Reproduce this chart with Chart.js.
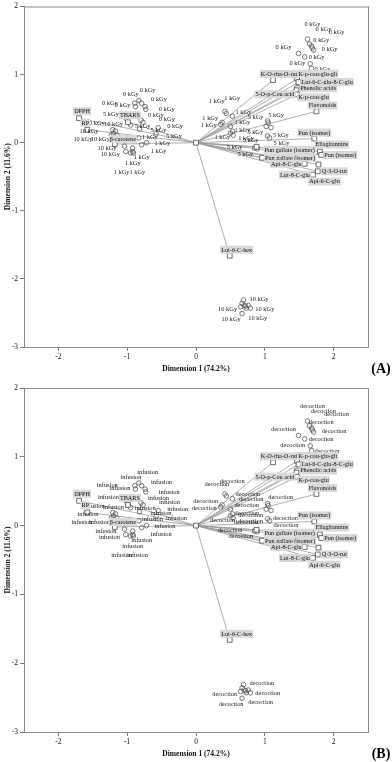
<!DOCTYPE html>
<html>
<head>
<meta charset="utf-8">
<script src="https://cdn.jsdelivr.net/npm/chart.js@4/dist/chart.umd.min.js"></script>
<style>
html,body{margin:0;padding:0;background:#fff;}
#wrap{position:relative;width:392px;height:762px;}
canvas{position:absolute;left:0;}
#cA{top:0;}
#cB{top:381px;}
</style>
</head>
<body>
<div id="wrap">
<canvas id="cA" width="392" height="381"></canvas>
<canvas id="cB" width="392" height="381"></canvas>
</div>
<script>
// ---- data ----------------------------------------------------------
// axis ticks
const xTicks = [-2, -1, 0, 1, 2];
const yTicks = [-3, -2, -1, 0, 1, 2];

// variables (component loadings)
const varNames = ['DPPH', 'RP', 'TBARS', 'β-carotene', 'K-O-rha-O-rut', 'K-p-cou-glu-glt',
  'Lut-6-C-glu-8-C-glu', 'Phenolic acids', '5-O-p-Cou acid', 'K-p-cou-glu', 'Flavonoids',
  'Pun (isomer)', 'Ellagitannins', 'Pun (isomer)', 'Pun gallate (isomer)', 'Pun gallate (isomer)',
  'Api-8-C-glu', 'Q-3-O-rut', 'Lut-8-C-glu', 'Api-6-C-glu', 'Lut-6-C-hex'];
const varDim1 = [-1.70, -1.58, -0.99, -1.18, 1.12, 1.47, 1.49, 1.47, 1.46, 1.47, 1.75,
  1.72, 1.80, 1.82, 0.88, 0.96, 1.58, 1.77, 1.70, 1.78, 0.49];
const varDim2 = [0.36, 0.19, 0.30, -0.02, 0.92, 0.94, 0.89, 0.80, 0.77, 0.71, 0.46,
  0.06, -0.13, -0.18, -0.06, -0.22, -0.31, -0.42, -0.47, -0.32, -1.66];

// objects (samples)
const obsDim1 = [
  1.62, 1.65, 1.68, 1.69, 1.49, 1.71, 1.58, 1.66, 1.68,
  -0.83, -0.79, -0.74, -0.73, -0.80, -0.77, -0.55, -0.88, -0.89,
  -1.02, -0.95, -0.82, -0.58,
  -1.21, -1.17, -1.20, -1.23, -1.15, -1.04, -1.02,
  -0.83, -0.72, -0.79, -0.92, -0.92, -0.95, -0.91,
  0.42, 0.44, 0.53, 0.38, 0.50, 0.36, 0.53, 0.50, 0.54,
  1.04, 1.05, 1.02, 1.09, 1.04, 1.07, 0.85, 0.89,
  0.69, 0.67, 0.70, 0.76, 0.73, 0.79, 0.67, 0.72, 0.65];
const obsDim2 = [
  1.52, 1.45, 1.42, 1.39, 1.31, 1.36, 1.26, 1.16, 1.09,
  0.62, 0.58, 0.53, 0.49, 0.33, 0.30, 0.22, 0.53, 0.58,
  0.36, 0.26, 0.20, 0.13,
  0.19, 0.17, 0.14, 0.11, 0.11, -0.05, -0.13,
  0.07, 0.00, -0.03, -0.08, -0.13, -0.15, -0.15,
  0.46, 0.43, 0.39, 0.30, 0.24, 0.27, 0.17, 0.14, 0.11,
  0.32, 0.29, 0.24, 0.22, 0.10, 0.07, -0.08, -0.09,
  -2.31, -2.36, -2.39, -2.39, -2.43, -2.43, -2.51, -2.40, -2.41];
const obsDose = [
  '0 kGy', '0 kGy', '0 kGy', '0 kGy', '0 kGy', '0 kGy', '0 kGy', '0 kGy', '0 kGy',
  '0 kGy', '0 kGy', '0 kGy', '0 kGy', '0 kGy', '0 kGy', '0 kGy', '0 kGy', '0 kGy',
  '5 kGy', '5 kGy', '5 kGy', '5 kGy',
  '10 kGy', '10 kGy', '10 kGy', '10 kGy', '10 kGy', '10 kGy', '10 kGy',
  '1 kGy', '1 kGy', '1 kGy', '1 kGy', '1 kGy', '1 kGy', '1 kGy',
  '1 kGy', '1 kGy', '1 kGy', '1 kGy', '1 kGy', '1 kGy', '1 kGy', '1 kGy', '1 kGy',
  '5 kGy', '5 kGy', '5 kGy', '5 kGy', '5 kGy', '5 kGy', '5 kGy', '5 kGy',
  '10 kGy', '10 kGy', '10 kGy', '10 kGy', '10 kGy', '10 kGy', '10 kGy', '10 kGy', '10 kGy'];
const obsPrep = [
  'decoction', 'decoction', 'decoction', 'decoction', 'decoction', 'decoction', 'decoction', 'decoction', 'decoction',
  'infusion', 'infusion', 'infusion', 'infusion', 'infusion', 'infusion', 'infusion', 'infusion', 'infusion',
  'infusion', 'infusion', 'infusion', 'infusion',
  'infusion', 'infusion', 'infusion', 'infusion', 'infusion', 'infusion', 'infusion',
  'infusion', 'infusion', 'infusion', 'infusion', 'infusion', 'infusion', 'infusion',
  'decoction', 'decoction', 'decoction', 'decoction', 'decoction', 'decoction', 'decoction', 'decoction', 'decoction',
  'decoction', 'decoction', 'decoction', 'decoction', 'decoction', 'decoction', 'decoction', 'decoction',
  'decoction', 'decoction', 'decoction', 'decoction', 'decoction', 'decoction', 'decoction', 'decoction', 'decoction'];

// ---- label placement (style only: side, dx, dy in px) ----------------
const varLabelAt = [['c', 3, -7], ['c', -2, -7], ['c', 2, -7], ['c', 8, -5], ['c', 6, -6], ['r', 1, -5],
  ['r', 3, 0], ['r', 3, 0], ['l', -2, 4], ['r', 1, 3], ['c', 6, -6],
  ['c', 0, -6], ['c', 12, -7], ['r', 3, 0], ['r', 8, 3], ['r', 3, 0],
  ['l', -3, 0], ['r', 4, 0], ['l', -3, 0], ['c', 6, 17], ['c', 7, -6]];
const obsLabelAt = [
  ['c', 5, -15], ['c', 14, -15], ['c', 25, -14], ['c', 9, -8], ['c', -15, -6], ['r', 8, -1], ['r', 4, 0], ['l', -5, 0], ['r', 3, 1],
  ['c', -8, -6], ['c', 6, -13], ['r', 6, -7], ['r', 13, 0], ['r', 7, -5], ['r', 16, -3], ['r', 9, -1], ['l', -5, -1], ['l', -17, 0],
  ['l', -7, -4], ['r', 4, 1], ['r', 11, 1], ['r', 10, 2],
  ['l', -8, -6], ['c', -2, -7], ['l', -15, -2], ['l', -19, 4], ['l', -7, 4], ['l', -8, 2], ['l', -6, 3],
  ['r', 3, -1], ['r', 8, 1], ['r', 9, 7], ['c', 9, 9], ['c', 0, 12], ['c', -9, 19], ['c', 4, 19],
  ['c', -8, -10], ['c', 6, -15], ['r', 3, -4], ['l', -4, -4], ['r', 4, -4], ['l', -4, 1], ['r', 2, -1], ['c', -8, 4], ['r', 5, 3],
  ['l', -4, -4], ['r', 0, -8], ['l', -3, 6], ['r', 2, 8], ['l', -9, 4], ['r', 4, 5], ['l', -12, -1], ['l', -4, 5],
  ['r', 6, -1], ['l', -5, 6], ['n'], ['n'], ['r', 2, 10], ['r', 5, 1], ['c', -11, 6], ['n'], ['n']];

const SERIF = '"Liberation Serif", "Times New Roman", serif';

// labels, frame and panel letter drawn on top of the datasets
function biplotLabels(obsText, tag, tagY) {
  return {
    id: 'biplotLabels',
    beforeDatasetsDraw(chart) {
      const a = chart.chartArea, ctx = chart.ctx;
      ctx.save();
      ctx.strokeStyle = '#8a8a8a';
      ctx.lineWidth = 1;
      ctx.strokeRect(a.left + 0.5, a.top + 0.5, a.right - a.left, a.bottom - a.top);
      ctx.restore();
    },
    afterDatasetsDraw(chart) {
      const ctx = chart.ctx;
      ctx.save();
      ctx.textBaseline = 'middle';
      // sample labels
      ctx.font = '6.4px ' + SERIF;
      ctx.fillStyle = '#1a1a1a';
      chart.getDatasetMeta(1).data.forEach((el, i) => {
        const p = obsLabelAt[i];
        if (p[0] === 'n') return;
        ctx.textAlign = p[0] === 'r' ? 'left' : (p[0] === 'l' ? 'right' : 'center');
        ctx.fillText(obsText[i], el.x + p[1], el.y + p[2]);
      });
      // variable labels with grey boxes
      ctx.font = '6.2px ' + SERIF;
      chart.getDatasetMeta(2).data.forEach((el, i) => {
        const p = varLabelAt[i];
        const w = ctx.measureText(varNames[i]).width;
        let x0 = el.x + p[1];
        if (p[0] === 'c') x0 -= w / 2;
        if (p[0] === 'l') x0 -= w;
        const y = el.y + p[2];
        ctx.fillStyle = '#d9d9d9';
        ctx.fillRect(x0 - 1, y - 4, w + 2, 8);
        ctx.fillStyle = '#111';
        ctx.textAlign = 'left';
        ctx.fillText(varNames[i], x0, y + 0.3);
      });
      // panel letter
      ctx.font = 'bold 14px ' + SERIF;
      ctx.textAlign = 'center';
      ctx.fillStyle = '#000';
      ctx.fillText(tag, 381, tagY);
      ctx.restore();
    }
  };
}

function drawBiplot(id, obsText, tag, padTop, titlePad, tagY) {
  const obsPts = obsDim1.map((x, i) => ({x: x, y: obsDim2[i]}));
  const varPts = varDim1.map((x, i) => ({x: x, y: varDim2[i]}));
  // vectors from the origin to every variable, broken by gaps
  const vecPts = [];
  varPts.forEach(p => { vecPts.push({x: 0, y: 0}, p, {x: null, y: null}); });

  const tickFont = {family: SERIF, size: 7.5};
  const titleFont = {family: SERIF, size: 7.5, weight: 'bold'};

  return new Chart(document.getElementById(id), {
    type: 'scatter',
    data: {
      datasets: [{
        data: vecPts,
        showLine: true,
        spanGaps: false,
        borderColor: '#9c9c9c',
        borderWidth: 0.8,
        pointRadius: 0,
        order: 3
      }, {
        data: obsPts,
        pointStyle: 'circle',
        pointRadius: 2.3,
        borderWidth: 0.8,
        borderColor: '#5a5a5a',
        backgroundColor: 'rgba(0,0,0,0)',
        order: 2
      }, {
        data: varPts,
        pointStyle: 'rect',
        pointRadius: 3.4,
        borderWidth: 0.8,
        borderColor: '#4a4a4a',
        backgroundColor: '#fff',
        order: 1
      }, {
        data: [{x: 0, y: 0}],
        pointStyle: 'rect',
        pointRadius: 3.4,
        borderWidth: 0.8,
        borderColor: '#4a4a4a',
        backgroundColor: '#fff',
        order: 0
      }]
    },
    options: {
      responsive: false,
      animation: false,
      events: [],
      layout: {padding: {left: 0, right: 24, top: padTop, bottom: 0}},
      plugins: {legend: {display: false}, tooltip: {enabled: false}},
      scales: {
        x: {
          type: 'linear',
          min: -2.5,
          max: 2.5,
          afterBuildTicks: s => { s.ticks = xTicks.map(v => ({value: v})); },
          afterFit: s => { s.height = 381 - padTop - 344; },
          ticks: {font: tickFont, color: '#111', padding: 2, maxRotation: 0, autoSkip: false,
            callback: v => String(v)},
          grid: {drawOnChartArea: false, drawTicks: true, tickLength: 4, color: '#7a7a7a'},
          border: {color: '#7a7a7a'},
          title: {display: true, text: 'Dimension 1 (74.2%)', font: titleFont, color: '#111',
            padding: {top: 0, bottom: titlePad}}
        },
        y: {
          type: 'linear',
          min: -3,
          max: 2,
          afterBuildTicks: s => { s.ticks = yTicks.map(v => ({value: v})); },
          afterFit: s => { s.width = 24; },
          ticks: {font: tickFont, color: '#111', padding: 2, autoSkip: false,
            callback: v => String(v)},
          grid: {drawOnChartArea: false, drawTicks: true, tickLength: 4, color: '#7a7a7a'},
          border: {color: '#7a7a7a'},
          title: {display: true, text: 'Dimension 2 (11.6%)', font: titleFont, color: '#111',
            padding: {top: 4, bottom: 0}}
        }
      }
    },
    plugins: [biplotLabels(obsText, tag, tagY)]
  });
}

drawBiplot('cA', obsDose, '(A)', 3, 7, 369);
drawBiplot('cB', obsPrep, '(B)', 7, 3.5, 373);
</script>
</body>
</html>
